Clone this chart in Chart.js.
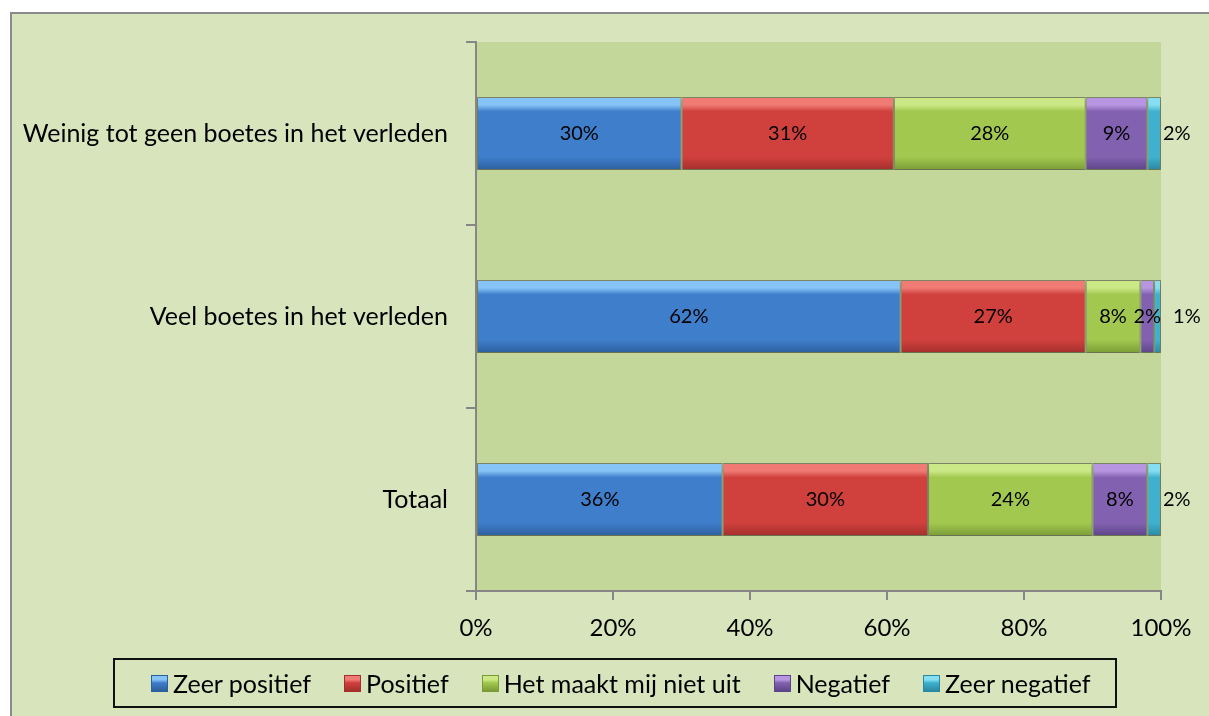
<!DOCTYPE html>
<html>
<head>
<meta charset="utf-8">
<script src="https://cdn.jsdelivr.net/npm/chart.js@4/dist/chart.umd.min.js"></script>
<style>
  html, body { margin: 0; padding: 0; background: #fff; }
  body { width: 1209px; height: 716px; position: relative; overflow: hidden; font-family: Lato, sans-serif; }
  .frame {
    position: absolute; left: 10px; top: 12px; width: 1220px; height: 720px;
    background: #d8e4bc; border-left: 2px solid #8a8a8a; border-top: 2px solid #8a8a8a;
  }
  #chart { position: absolute; left: 0; top: 0; }
  #legend {
    position: absolute; left: 113px; top: 658px; width: 1004px; height: 50px;
    box-sizing: border-box; border: 2px solid #111;
    display: flex; align-items: center; padding-left: 36px; gap: 33px;
    font-size: 25px; color: #000;
  }
  #legend .item { display: flex; align-items: center; white-space: nowrap; }
  #legend .sw { width: 17px; height: 17px; margin-right: 5px; box-sizing: border-box; }
</style>
</head>
<body>
<div class="frame"></div>
<canvas id="chart" width="1209" height="716"></canvas>
<div id="legend"></div>
<script>
const categories = ["Weinig tot geen boetes in het verleden", "Veel boetes in het verleden", "Totaal"];
const seriesNames = ["Zeer positief", "Positief", "Het maakt mij niet uit", "Negatief", "Zeer negatief"];
const zeerPositief = [30, 62, 36];
const positief = [31, 27, 30];
const nietUit = [28, 8, 24];
const negatief = [9, 2, 8];
const zeerNegatief = [2, 1, 2];
const xTicks = [0, 20, 40, 60, 80, 100];

const palette = [
  { top: "#86c3f6", main: "#3f7ecb", bottom: "#2d5f9e" },
  { top: "#f07a74", main: "#d0403d", bottom: "#a32f2c" },
  { top: "#cbe886", main: "#a2c84f", bottom: "#7a9c36" },
  { top: "#b795e0", main: "#8262b0", bottom: "#5d4488" },
  { top: "#86def2", main: "#3fb1cf", bottom: "#2a88a3" },
];

// vertical bevel gradient for each bar
function bevel(c) {
  return (ctx) => {
    const chart = ctx.chart;
    const y = chart.scales && chart.scales.y;
    if (!chart.chartArea || !y || ctx.type !== "data") return c.main;
    const mid = y.getPixelForValue(ctx.dataIndex);
    const half = (y.height / categories.length) * 0.4 / 2;
    const g = chart.ctx.createLinearGradient(0, mid - half, 0, mid + half);
    g.addColorStop(0, c.top);
    g.addColorStop(0.11, c.top);
    g.addColorStop(0.2, c.main);
    g.addColorStop(0.82, c.main);
    g.addColorStop(1, c.bottom);
    return g;
  };
}

const seriesValues = [zeerPositief, positief, nietUit, negatief, zeerNegatief];

const plotBg = {
  id: "plotBg",
  beforeDraw(chart) {
    const a = chart.chartArea;
    const ctx = chart.ctx;
    ctx.save();
    ctx.fillStyle = "#c4d79b";
    ctx.fillRect(a.left, a.top, a.right - a.left, a.bottom - a.top);
    ctx.restore();
  },
  beforeDatasetsDraw(chart) {
    const ctx = chart.ctx;
    ctx.save();
    ctx.shadowColor = "rgba(60,70,30,0.35)";
    ctx.shadowOffsetY = 3;
    ctx.shadowBlur = 4;
  },
  afterDatasetsDraw(chart) {
    chart.ctx.restore();
  },
};

const valueLabels = {
  id: "valueLabels",
  afterDatasetsDraw(chart) {
    const ctx = chart.ctx;
    ctx.save();
    ctx.font = "20px Lato";
    ctx.fillStyle = "#000";
    ctx.textBaseline = "middle";
    const last = chart.data.datasets.length - 1;
    categories.forEach((cat, i) => {
      let prevRight = 0;
      chart.data.datasets.forEach((ds, d) => {
        const el = chart.getDatasetMeta(d).data[i];
        const txt = ds.data[i] + "%";
        const w = ctx.measureText(txt).width;
        if (d === last) {
          const left = Math.max(el.x + 2, prevRight + 12);
          ctx.textAlign = "left";
          ctx.fillText(txt, left, el.y);
        } else {
          const cx = (el.x + el.base) / 2;
          ctx.textAlign = "center";
          ctx.fillText(txt, cx, el.y);
          prevRight = cx + w / 2;
        }
      });
    });
    ctx.restore();
  },
};

const chart = new Chart(document.getElementById("chart"), {
  type: "bar",
  data: {
    labels: categories,
    datasets: seriesNames.map((name, i) => ({
      label: name,
      data: seriesValues[i],
      backgroundColor: bevel(palette[i]),
      borderColor: "rgba(40,40,40,0.45)",
      borderWidth: 1,
      borderSkipped: false,
      categoryPercentage: 1,
      barPercentage: 0.4,
    })),
  },
  options: {
    indexAxis: "y",
    responsive: false,
    animation: false,
    layout: { padding: { top: 42, right: 48, left: 0, bottom: 65 } },
    plugins: {
      legend: { display: false },
      tooltip: { enabled: false },
    },
    scales: {
      x: {
        stacked: true,
        min: 0,
        max: 100,
        afterBuildTicks: (scale) => { scale.ticks = xTicks.map((v) => ({ value: v })); },
        afterFit: (scale) => { scale.height = 60; },
        ticks: {
          callback: (v) => v + "%",
          color: "#000",
          font: { family: "Lato", size: 24 },
          padding: 14,
          maxRotation: 0,
        },
        grid: { drawOnChartArea: false, drawTicks: true, tickLength: 9, color: "#868686", lineWidth: 2 },
        border: { display: true, color: "#868686", width: 2 },
      },
      y: {
        stacked: true,
        afterFit: (scale) => { scale.width = 476; },
        ticks: {
          color: "#000",
          font: { family: "Lato", size: 25 },
          padding: 18,
        },
        grid: { offset: true, drawOnChartArea: false, drawTicks: true, tickLength: 10, color: "#868686", lineWidth: 2 },
        border: { display: true, color: "#868686", width: 2 },
      },
    },
  },
  plugins: [plotBg, valueLabels],
});

// html legend built from the datasets
const legendEl = document.getElementById("legend");
chart.data.datasets.forEach((ds, i) => {
  const item = document.createElement("div");
  item.className = "item";
  const sw = document.createElement("span");
  sw.className = "sw";
  const c = palette[i];
  sw.style.background = `linear-gradient(${c.top} 0%, ${c.top} 25%, ${c.main} 45%, ${c.bottom} 100%)`;
  sw.style.border = `1px solid ${c.bottom}`;
  const label = document.createElement("span");
  label.textContent = ds.label;
  item.appendChild(sw);
  item.appendChild(label);
  legendEl.appendChild(item);
});
</script>
</body>
</html>
